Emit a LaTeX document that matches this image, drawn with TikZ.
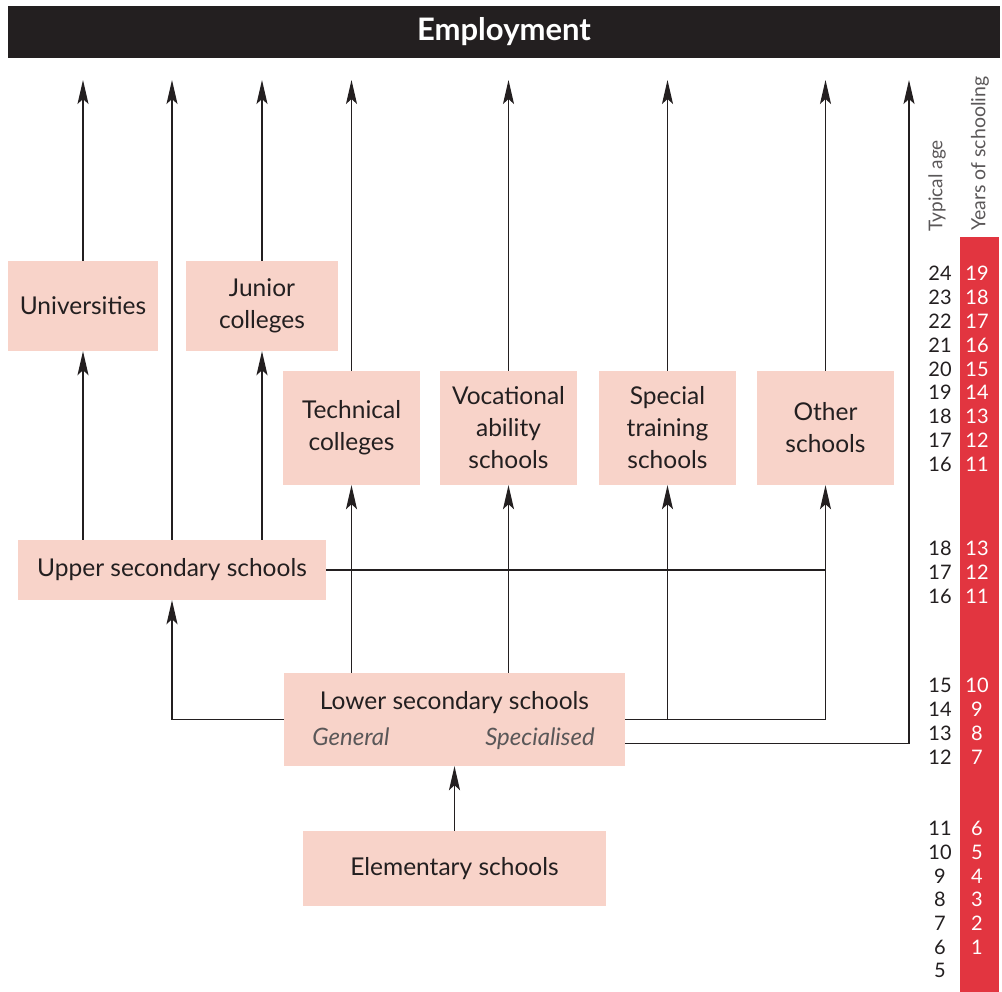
\documentclass[tikz,border=0pt]{standalone}
\usepackage{fontspec}
\setmainfont{Lato}
\usetikzlibrary{arrows.meta}
\definecolor{boxfill}{HTML}{F8D3C9}
\definecolor{redcol}{HTML}{E23540}
\definecolor{ink}{HTML}{231F20}
\begin{document}
\begin{tikzpicture}[x=1pt,y=1pt,
  box/.style={rectangle, fill=boxfill, inner sep=0pt, align=center, text=ink, font=\fontsize{24.5}{32}\selectfont},
  arr/.style={line width=1.3pt, draw=ink, -{Stealth[length=24pt,width=11pt,inset=5pt]}},
  ln/.style={line width=1.3pt, draw=ink},
  age/.style={font=\fontsize{20}{24}\selectfont, text=ink, inner sep=0pt},
  yrs/.style={font=\fontsize{20}{24}\selectfont, text=white, inner sep=0pt},
  sub/.style={inner sep=0pt, anchor=base, text=ink!75, font=\fontsize{24}{32}\selectfont\itshape},
  vlabel/.style={rotate=90, anchor=west, inner sep=0pt, text=ink!75}]
\useasboundingbox (0,0) rectangle (1002,-992);

% header
\node[rectangle, fill=ink, minimum width=992pt, minimum height=52pt, inner sep=0pt,
      text=white, font=\fontsize{31}{33}\selectfont\bfseries] (emp) at (504,-32) {Employment};

% coordinates of arrow ends under the header
\coordinate (top) at (0,-80);
\coordinate (topR) at (909,-80);

% boxes
\node[box, minimum width=150pt, minimum height=90pt] (univ) at (83,-306) {Universities};
\node[box, minimum width=152pt, minimum height=90pt] (junior) at (262,-306) {Junior\\colleges};
\node[box, minimum width=137pt, minimum height=114pt] (tech) at (351.5,-428) {Technical\\colleges};
\node[box, minimum width=137pt, minimum height=114pt] (voc) at (508.5,-428) {Vocational\\ability\\schools};
\node[box, minimum width=137pt, minimum height=114pt] (special) at (667.5,-428) {Special\\training\\schools};
\node[box, minimum width=137pt, minimum height=114pt] (other) at (825.5,-428) {Other\\schools};
\node[box, minimum width=308pt, minimum height=60pt] (upper) at (172,-570) {Upper secondary schools};
\node[box, minimum width=341pt, minimum height=93pt] (lower) at (454.5,-719.5) {};
\node[box, anchor=base] (lowtitle) at (454.5,-709) {Lower secondary schools};
\node[sub] (gen) at (351,-745) {General};
\node[sub] (spec) at (540,-745) {Specialised};
\node[box, minimum width=303pt, minimum height=75pt] (elem) at (454.5,-868.5) {Elementary schools};

% connectors to employment
\draw[arr] (univ.north) -- (univ.north |- top);
\draw[arr] (upper.north) -- (upper.north |- top);
\draw[arr] (junior.north) -- (junior.north |- top);
\draw[arr] (tech.north) -- (tech.north |- top);
\draw[arr] (voc.north) -- (voc.north |- top);
\draw[arr] (special.north) -- (special.north |- top);
\draw[arr] (other.north) -- (other.north |- top);

% upper secondary
\draw[arr] (upper.north -| univ.south) -- (univ.south);
\draw[arr] (upper.north -| junior.south) -- (junior.south);
\draw[ln] (upper.east) -- (upper.east -| other.south);

% lower secondary
\draw[arr] (lower.west) -| (upper.south);
\draw[arr] (lower.north -| tech.south) -- (tech.south);
\draw[arr] (lower.north -| voc.south) -- (voc.south);
\draw[arr] (lower.east -| special.south) -- (special.south);
\draw[arr] (lower.east) -| (other.south);
\draw[arr] ([yshift=-24pt]lower.east) -| (topR);

% elementary
\draw[arr] (elem.north) -- (elem.north |- lower.south);

% right column
\fill[redcol] (960,-237) rectangle (999,-992);
\node[vlabel, font=\fontsize{19}{21}\selectfont] (agelabel) at (937,-232) {Typical age};
\node[vlabel, font=\fontsize{19.5}{21}\selectfont] (yrslabel) at (980,-231) {Years of schooling};
\foreach \a/\y/\n in {24/273/19, 23/297/18, 22/321/17, 21/345/16, 20/369/15, 19/392/14, 18/416/13, 17/440/12, 16/464/11,
                     18/548/13, 17/572/12, 16/596/11,
                     15/685/10, 14/709/9, 13/733/8, 12/757/7,
                     11/828/6, 10/852/5, 9/876/4, 8/899/3, 7/923/2, 6/947/1}{
  \node[age] (age\y) at (940,-\y) {\a};
  \node[yrs] (yrs\y) at (977,-\y) {\n};
}
\node[age] (age970) at (940,-970) {5};
\end{tikzpicture}
\end{document}
